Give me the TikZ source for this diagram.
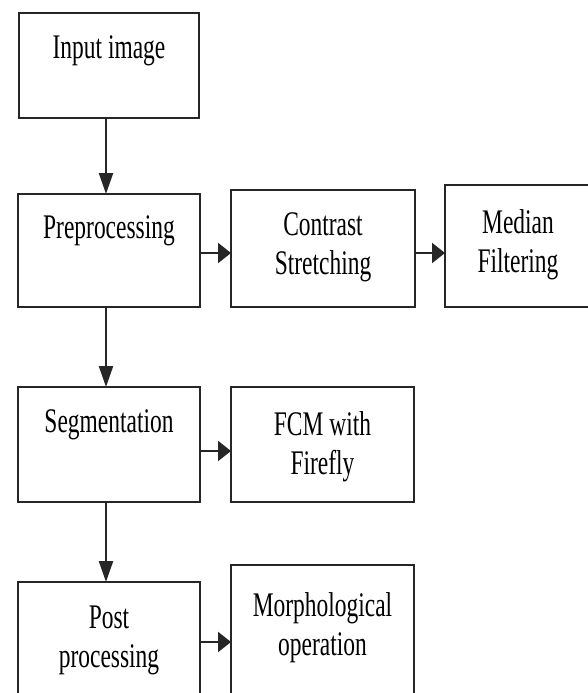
\documentclass[tikz,border=0pt]{standalone}
\usepackage{fontspec}
\setmainfont[FakeStretch=0.68]{Liberation Serif}
\usetikzlibrary{arrows.meta,positioning}

\begin{document}
\begin{tikzpicture}
    [x=1pt,y=1pt,line width=2.2pt,
     box/.style={rectangle,draw=black!85,minimum width=182pt,inner sep=0pt,outer sep=0pt},
     txt/.style={align=center,inner sep=0pt,font=\fontsize{34.5}{39}\selectfont},
     varr/.style={draw=black!85,-{Triangle[length=21pt,width=14pt]}},
     harr/.style={draw=black!85,-{Triangle[length=13pt,width=20pt]}}]
    \useasboundingbox (0,0) rectangle (587,-693);

    % main column
    \node[box,minimum width=180pt,minimum height=105pt,anchor=north west] (In) at (19,-13) {};
    \node[box,minimum height=113pt,below=76pt of In] (Pre) {};
    \node[box,minimum height=115pt,below=80pt of Pre] (Seg) {};
    \node[box,minimum height=116pt,below=80pt of Seg] (Post) {};
    % side steps
    \node[box,minimum width=184pt,minimum height=117pt,right=31pt of Pre.south east,anchor=south west] (Con) {};
    \node[box,minimum width=146pt,minimum height=122pt,right=30pt of Con.south east,anchor=south west] (Med) {};
    \node[box,minimum width=183pt,minimum height=115pt,right=31pt of Seg] (Fcm) {};
    \node[box,minimum width=183pt,minimum height=133pt,right=31pt of Post.south east,anchor=south west] (Mor) {};

    \node[txt,below=22pt of In.north] (InT) {Input image};
    \node[txt,below=21pt of Pre.north] (PreT) {Preprocessing};
    \node[txt,below=22pt of Con.north] (ConT) {Contrast\\Stretching};
    \node[txt,below=23pt of Med.north] (MedT) {Median\\Filtering};
    \node[txt,below=22pt of Seg.north] (SegT) {Segmentation};
    \node[txt,below=23pt of Fcm.north] (FcmT) {FCM with\\Firefly};
    \node[txt,below=23pt of Post.north] (PostT) {Post\\processing};
    \node[txt,below=26pt of Mor.north] (MorT) {Morphological\\operation};

    \draw[varr] ([xshift=-3pt]In.south) -- ([xshift=-3pt]Pre.north);
    \draw[varr] ([xshift=-3pt]Pre.south) -- ([xshift=-3pt]Seg.north);
    \draw[varr] ([xshift=-3pt]Seg.south) -- ([xshift=-3pt]Post.north);
    \draw[harr] ([yshift=-59pt]Pre.north east) -- ([yshift=-59pt]Pre.north east -| Con.west);
    \draw[harr] ([yshift=-63pt]Con.north east) -- ([yshift=-63pt]Con.north east -| Med.west);
    \draw[harr] ([yshift=-64pt]Seg.north east) -- ([yshift=-64pt]Seg.north east -| Fcm.west);
    \draw[harr] ([yshift=-60pt]Post.north east) -- ([yshift=-60pt]Post.north east -| Mor.west);
\end{tikzpicture}
\end{document}
